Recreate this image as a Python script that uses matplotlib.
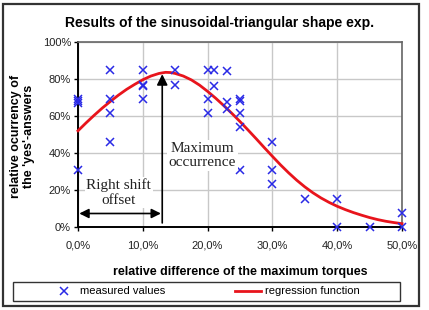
import matplotlib
matplotlib.use("Agg")
import matplotlib.pyplot as plt
from matplotlib.lines import Line2D
from matplotlib.patches import Rectangle

plt.rcParams['font.family'] = ['Liberation Sans', 'DejaVu Sans']

# measured values (relative difference %, relative occurrence %)
meas_x = [0, 0, 0, 0,
          5, 5, 5, 5,
          10, 10, 10, 10,
          15, 15,
          20, 20, 20,
          21, 21,
          23, 23, 23,
          25, 25, 25, 25, 25,
          30, 30, 30,
          35,
          40, 40,
          45,
          50, 50]
meas_y = [69.2, 67.9, 67.0, 30.8,
          84.6, 69.2, 61.5, 46.2,
          84.6, 76.9, 76.0, 69.2,
          84.6, 76.9,
          84.6, 69.2, 61.5,
          84.6, 76.0,
          84.2, 67.5, 64.0,
          69.2, 67.9, 61.5, 53.8, 30.8,
          46.2, 30.8, 23.1,
          15.4,
          15.4, 0.0,
          0.0,
          7.7, 0.0]

# regression function
reg_x = [0, 1.25, 2.5, 3.75, 5, 6.25, 7.5, 8.75, 10, 11.25, 12.5, 13.5, 14.25,
         15, 16.25, 17.5, 18.75, 20, 21.25, 22.5, 23.75, 25, 26.25, 27.5, 28.75,
         30, 31.25, 32.5, 33.75, 35, 36.25, 37.5, 38.75, 40, 41.25, 42.5, 43.75,
         45, 46.25, 47.5, 48.75, 50]
reg_y = [52.0, 56.3, 60.4, 64.3, 67.9, 71.3, 74.4, 77.1, 79.6, 81.6, 83.0, 83.6, 83.5,
         83.0, 81.6, 79.5, 76.7, 73.3, 69.6, 65.6, 61.4, 57.0, 52.4, 47.7, 42.9,
         38.2, 33.6, 29.3, 25.3, 21.7, 18.5, 15.7, 13.3, 11.2, 9.4, 7.8, 6.4,
         5.1, 4.0, 3.1, 2.4, 1.8]

x_ticks = [0, 10, 20, 30, 40, 50]
x_ticklabels = ["0,0%", "10,0%", "20,0%", "30,0%", "40,0%", "50,0%"]
y_ticks = [0, 20, 40, 60, 80, 100]
y_ticklabels = ["0%", "20%", "40%", "60%", "80%", "100%"]

W, H = 429, 310
fig = plt.figure(figsize=(W / 100, H / 100), dpi=100)
fig.patch.set_facecolor('white')

def fx(px):
    return px / W

def fy(py):
    return 1 - py / H

ax = fig.add_axes([fx(78), fy(227), fx(402) - fx(78), fy(42) - fy(227)])
ax.set_xlim(0, 50)
ax.set_ylim(0, 100)
ax.set_xticks(x_ticks)
ax.set_xticklabels(x_ticklabels)
ax.set_yticks(y_ticks)
ax.set_yticklabels(y_ticklabels)
ax.tick_params(axis='x', direction='out', length=3, width=1, pad=7, labelsize=8, colors='black')
ax.tick_params(axis='y', direction='out', length=3, width=1, pad=2, labelsize=8, colors='black')
for lab in ax.get_xticklabels() + ax.get_yticklabels():
    lab.set_color('#222222')
ax.grid(True, color='#c8c8c8', linewidth=1)
ax.set_axisbelow(True)
for s in ['left', 'bottom']:
    ax.spines[s].set_color('black')
    ax.spines[s].set_linewidth(1.4)
for s in ['top', 'right']:
    ax.spines[s].set_color('#666666')
    ax.spines[s].set_linewidth(1.2)

ax.plot(reg_x, reg_y, color='#e8141c', linewidth=2, zorder=3, clip_on=False,
        solid_joinstyle='round')
ax.plot(meas_x, meas_y, linestyle='none', marker='x', markersize=6,
        markeredgewidth=1.1, color='#2a2ae6', zorder=4, clip_on=False)

# annotations
ax.annotate('', xy=(13.0, 82.6), xytext=(13.0, 2.2),
            arrowprops=dict(arrowstyle='-|>', color='black', lw=1.2,
                            mutation_scale=16, shrinkA=0, shrinkB=0), zorder=5)
ax.annotate('', xy=(0.2, 7.3), xytext=(12.8, 7.3),
            arrowprops=dict(arrowstyle='<|-|>', color='black', lw=1.2,
                            mutation_scale=14, shrinkA=0, shrinkB=0), zorder=5)
ax.text(6.3, 18.6, 'Right shift\noffset', ha='center', va='center',
        multialignment='center', fontsize=11, family=['Liberation Serif'],
        color='#222222', linespacing=1.15,
        bbox=dict(boxstyle='square,pad=0.1', facecolor='white', edgecolor='none'), zorder=4.5)
ax.text(19.2, 38.6, 'Maximum\noccurrence', ha='center', va='center',
        multialignment='center', fontsize=11, family=['Liberation Serif'],
        color='#222222', linespacing=1.15,
        bbox=dict(boxstyle='square,pad=0.1', facecolor='white', edgecolor='none'), zorder=4.5)

# titles
fig.text(fx(220), fy(22.7), 'Results of the sinusoidal-triangular shape exp.',
         ha='center', va='center', fontsize=10, fontweight='bold')
fig.text(fx(240), fy(271.7), 'relative difference of the maximum torques',
         ha='center', va='center', fontsize=8.9, fontweight='bold')
fig.text(fx(22.5), fy(136.7), "relative ocurrency of\nthe 'yes'-answers",
         ha='center', va='center', rotation=90, multialignment='center',
         fontsize=9, fontweight='bold', linespacing=1.2)

# legend
fig.patches.append(Rectangle((fx(13), fy(301)), fx(400) - fx(13), fy(282) - fy(301),
                             transform=fig.transFigure, facecolor='white',
                             edgecolor='#333333', linewidth=1))
handles = [Line2D([], [], linestyle='none', marker='x', markersize=6,
                  markeredgewidth=1.1, color='#2a2ae6'),
           Line2D([], [], color='#e8141c', linewidth=2)]
fig.legend(handles, ['measured values', 'regression function'], ncol=2,
           loc='center', bbox_to_anchor=(fx(205), fy(291.5)), frameon=False,
           fontsize=8, handlelength=2.34, handletextpad=0.3, columnspacing=6.3,
           borderpad=0, borderaxespad=0)

# outer border
fig.patches.append(Rectangle((fx(3), fy(306)), fx(419) - fx(3), fy(3.5) - fy(306),
                             transform=fig.transFigure, facecolor='none',
                             edgecolor='#333333', linewidth=1.6))

fig.savefig('out.png', dpi=100)
